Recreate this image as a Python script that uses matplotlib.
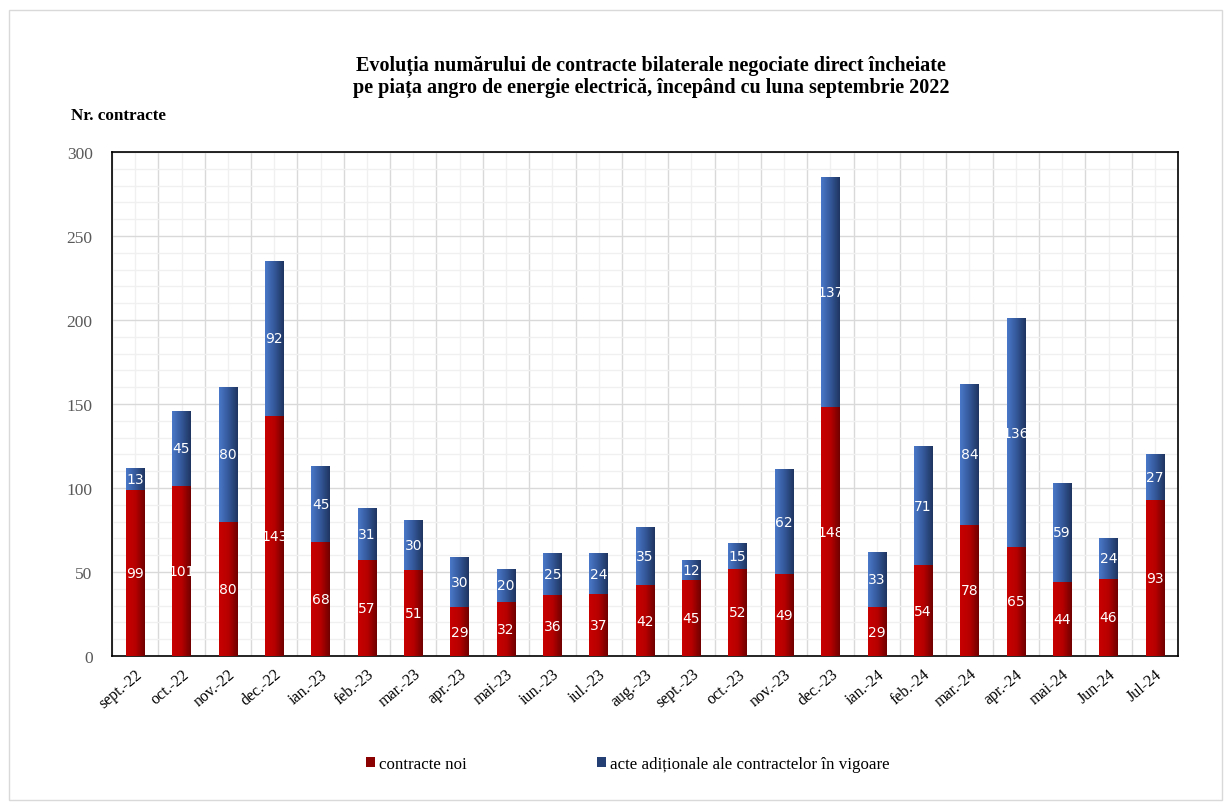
"""Stacked bars: bilateral contracts negotiated directly, Sept 2022 - Jul 2024."""

import numpy as np
import matplotlib
matplotlib.use("Agg")
import matplotlib.pyplot as plt
from matplotlib.colors import LinearSegmentedColormap
from matplotlib.patches import Rectangle
from matplotlib.ticker import MultipleLocator

months = ["sept.-22", "oct.-22", "nov.-22", "dec.-22", "ian.-23", "feb.-23",
          "mar.-23", "apr.-23", "mai-23", "iun.-23", "iul.-23", "aug.-23",
          "sept.-23", "oct.-23", "nov.-23", "dec.-23", "ian.-24", "feb.-24",
          "mar.-24", "apr.-24", "mai-24", "Jun-24", "Jul-24"]
contracte_noi = [99, 101, 80, 143, 68, 57, 51, 29, 32, 36, 37, 42,
                 45, 52, 49, 148, 29, 54, 78, 65, 44, 46, 93]
acte_aditionale = [13, 45, 80, 92, 45, 31, 30, 30, 20, 25, 24, 35,
                   12, 15, 62, 137, 33, 71, 84, 136, 59, 24, 27]

SERIF = "Liberation Serif"
RED_CMAP = LinearSegmentedColormap.from_list("r", ["#c80000", "#b80000", "#700000"])
BLUE_CMAP = LinearSegmentedColormap.from_list("b", ["#4a78c8", "#34589a", "#1f3560"])


def _shade(ax, bars, cmap):
    grad = np.linspace(0, 1, 64).reshape(1, -1)
    for b in bars:
        x, y = b.get_x(), b.get_y()
        w, h = b.get_width(), b.get_height()
        im = ax.imshow(grad, cmap=cmap, aspect="auto", extent=(x, x + w, y, y + h),
                       zorder=b.get_zorder() + 0.1, interpolation="bilinear")
        im.set_clip_path(b)


def main():
    fig = plt.figure(figsize=(12.31, 8.12), dpi=100)
    fig.patches.append(Rectangle((0.007, 0.014), 0.986, 0.972, transform=fig.transFigure,
                                 fill=False, edgecolor="#d9d9d9", linewidth=1))
    ax = fig.add_axes([0.091, 0.191, 0.866, 0.6206])

    x = np.arange(len(months))
    width = 0.4
    red = ax.bar(x, contracte_noi, width, color="#c00000", zorder=3,
                 label="contracte noi")
    blue = ax.bar(x, acte_aditionale, width, bottom=contracte_noi, color="#2f5597",
                  zorder=3, label="acte adiționale ale contractelor în vigoare")
    _shade(ax, red, RED_CMAP)
    _shade(ax, blue, BLUE_CMAP)

    for xi, r, b in zip(x, contracte_noi, acte_aditionale):
        ax.text(xi, r / 2, str(r), ha="center", va="center", color="white",
                fontsize=10, zorder=5)
        ax.text(xi, r + b / 2, str(b), ha="center", va="center", color="white",
                fontsize=10, zorder=5)

    ax.set_xlim(-0.5, len(months) - 0.5)
    ax.set_ylim(0, 300)
    ax.yaxis.set_major_locator(MultipleLocator(50))
    ax.yaxis.set_minor_locator(MultipleLocator(10))
    ax.set_xticks(x)
    ax.set_xticks(np.arange(-0.5, len(months), 1.0), minor=True)
    ax.grid(which="major", axis="y", color="#d9d9d9", linewidth=1, zorder=0)
    ax.grid(which="minor", axis="y", color="#f0f0f0", linewidth=1, zorder=0)
    ax.grid(which="minor", axis="x", color="#d9d9d9", linewidth=1, zorder=0)
    ax.grid(which="major", axis="x", color="#f0f0f0", linewidth=1, zorder=0)
    ax.set_axisbelow(True)

    ax.tick_params(which="both", length=0)
    ax.set_xticklabels(months, rotation=40, ha="right", rotation_mode="anchor",
                       fontsize=11.5, family=SERIF)
    for lbl in ax.get_yticklabels():
        lbl.set_family(SERIF)
        lbl.set_fontsize(12.5)
        lbl.set_color("#595959")
    ax.tick_params(axis="y", pad=14)
    ax.tick_params(axis="x", pad=7)
    for s in ax.spines.values():
        s.set_color("black")
        s.set_linewidth(1.2)

    fig.text(0.529, 0.905, "Evoluția numărului de contracte bilaterale negociate direct încheiate\n"
             "pe piața angro de energie electrică, începând cu luna septembrie 2022",
             ha="center", va="center", fontsize=14.5, fontweight="bold", family=SERIF,
             linespacing=1.1)
    fig.text(0.058, 0.857, "Nr. contracte", ha="left", va="center", fontsize=12.3,
             fontweight="bold", family=SERIF)

    leg = fig.legend(handles=[red, blue], loc="center", bbox_to_anchor=(0.51, 0.058),
                     ncol=2, frameon=False, handlelength=0.55, handleheight=0.55,
                     handletextpad=0.2, columnspacing=7.7,
                     prop={"family": SERIF, "size": 12.2})
    # legend keys are darker than the bars in the original
    for handle, col in zip(leg.legend_handles, ["#8b0000", "#243f73"]):
        handle.set_facecolor(col)

    fig.savefig("out.png", dpi=100)
    plt.close(fig)


if __name__ == "__main__":
    main()
